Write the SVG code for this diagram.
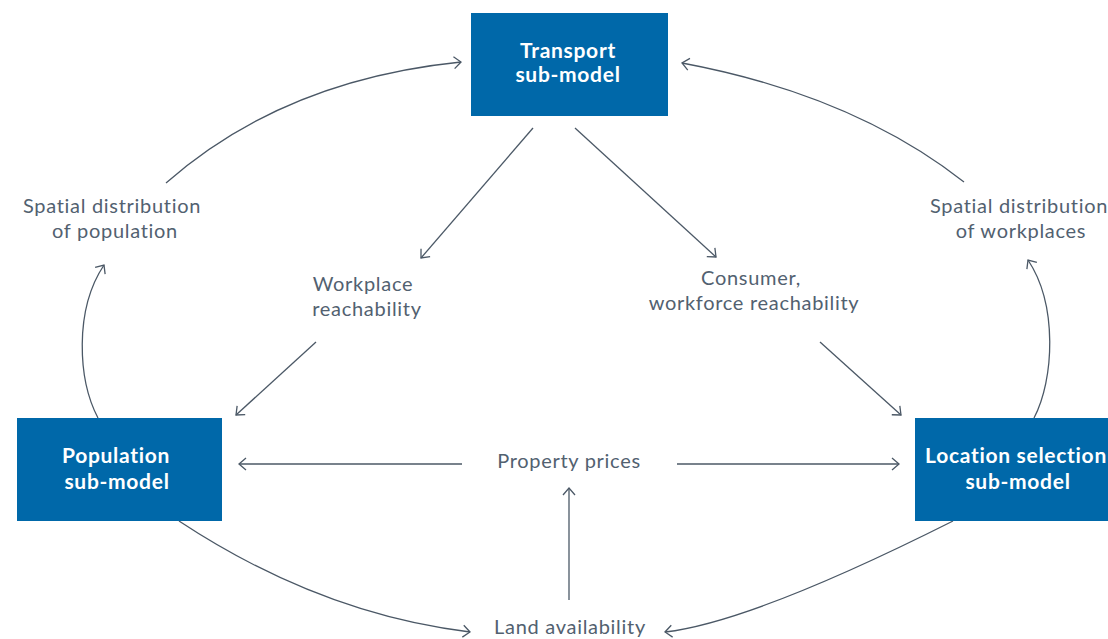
<svg xmlns="http://www.w3.org/2000/svg" width="1108" height="639" viewBox="0 0 1108 639">
<defs>
<style>
.box{fill:#0068a9}
.bt{font-family:Lato,"Open Sans","Liberation Sans",sans-serif;font-weight:bold;font-size:21px;letter-spacing:0.7px;fill:#ffffff;text-anchor:middle;font-variant-ligatures:none}
.lb{font-family:Lato,"Open Sans","Liberation Sans",sans-serif;font-size:20px;letter-spacing:0.7px;fill:#526170;text-anchor:middle;font-variant-ligatures:none}
.c{fill:none;stroke:#4b5866;stroke-width:1.3;marker-end:url(#ah)}
</style>
<marker id="ah" markerUnits="userSpaceOnUse" viewBox="-10 -8 12 16" refX="0" refY="0" markerWidth="12" markerHeight="16" orient="auto">
<path d="M-7,-6 L0,0 L-7,6" fill="none" stroke="#4b5866" stroke-width="1.3"/>
</marker>
</defs>
<rect width="1108" height="639" fill="#ffffff"/>
<g id="connectors">
<path class="c" d="M166,183 Q283,80 461,62"/>
<path class="c" d="M964,182 Q853,95 682,63"/>
<path class="c" d="M98,418 C78,380 74,310 104,265"/>
<path class="c" d="M1034,418 C1054,380 1058,305 1028,260"/>
<path class="c" d="M533,128 L421,258"/>
<path class="c" d="M575,128 L716,257"/>
<path class="c" d="M316,342 L236,415"/>
<path class="c" d="M820,342 L901,415"/>
<path class="c" d="M462,464 L239,464"/>
<path class="c" d="M677,464 L899,464"/>
<path class="c" d="M569,600 L569,488"/>
<path class="c" d="M179,521 Q320,614 470,632"/>
<path class="c" d="M953,521 Q752,622 665,632"/>
</g>
<g id="transport">
<rect class="box" x="471" y="13" width="197" height="103"/>
<text class="bt" x="568" y="58">Transport</text>
<text class="bt" x="568" y="82">sub-model</text>
</g>
<g id="population">
<rect class="box" x="17" y="418" width="205" height="103"/>
<text class="bt" x="116" y="463">Population</text>
<text class="bt" x="117" y="489">sub-model</text>
</g>
<g id="location">
<rect class="box" x="915" y="418" width="193" height="103"/>
<text class="bt" x="1016" y="463">Location selection</text>
<text class="bt" x="1018" y="489">sub-model</text>
</g>
<g id="spatial-population">
<text class="lb" x="112" y="213">Spatial distribution</text>
<text class="lb" x="115" y="238">of population</text>
</g>
<g id="spatial-workplaces">
<text class="lb" x="1019" y="213">Spatial distribution</text>
<text class="lb" x="1021" y="238">of workplaces</text>
</g>
<g id="workplace-reachability">
<text class="lb" x="363" y="291">Workplace</text>
<text class="lb" x="367" y="316">reachability</text>
</g>
<g id="consumer-reachability">
<text class="lb" x="751" y="285">Consumer,</text>
<text class="lb" x="754" y="310">workforce reachability</text>
</g>
<g id="property-prices">
<text class="lb" x="569" y="468">Property prices</text>
</g>
<g id="land-availability">
<text class="lb" x="570" y="634">Land availability</text>
</g>
</svg>
